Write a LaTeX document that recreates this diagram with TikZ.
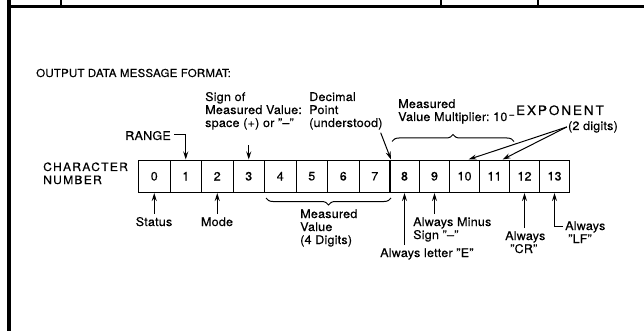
\documentclass[tikz,border=0pt]{standalone}
\usepackage{fontspec}
\setmainfont{TeX Gyre Heros}[FakeStretch=1.05,LetterSpace=1.5,FakeBold=0.3]
\newfontfamily\widefont{TeX Gyre Heros}[FakeStretch=1.05,LetterSpace=11,FakeBold=0.3]
\usetikzlibrary{arrows.meta,decorations.pathreplacing,calc}
\begin{document}
\begin{tikzpicture}[x=1pt,y=-1pt,font=\fontsize{12}{14}\selectfont,
  cell/.style={draw,line width=1pt,minimum height=32.5pt,inner sep=0pt,anchor=north west},
  lbl/.style={inner sep=0pt,anchor=base west},
  clbl/.style={inner sep=0pt,anchor=base},
  arr/.style={line width=1pt,-{Stealth[length=8pt,width=5pt]}},
  brc/.style={line width=1pt,decorate,decoration={brace,amplitude=7pt}},
  frame/.style={line width=#1}]
\useasboundingbox (0,0) rectangle (644,331);
% frame
\draw[frame=4pt] (9,0) -- (9,331);
\draw[frame=3pt] (7,6.5) -- (644,6.5);
\draw[frame=1.5pt] (61,0) -- (61,6);
\draw[frame=2pt] (441,0) -- (441,6);
\draw[frame=2pt] (538,0) -- (538,6);
% title
\node[lbl,font=\fontsize{11}{13}\selectfont] (title) at (36,77) {OUTPUT DATA MESSAGE FORMAT:};
% cells
\foreach \i in {0,...,7} {\node[cell,minimum width=31.5pt] (c\i) at ({138+31.5*\i},159.5) {\i};}
\foreach \i in {8,...,13} {\node[cell,minimum width=30pt] (c\i) at ({389+30*(\i-8)},159.5) {\i};}
% left labels
\node[lbl,font=\fontsize{11.5}{13}\widefont] (ch1) at (43,171) {CHARACTER};
\node[lbl,font=\fontsize{11.5}{13}\widefont] (ch2) at (43,184) {NUMBER};
% RANGE
\node[inner sep=0pt,anchor=base east] (range) at (171,140) {RANGE};
\draw[arr] ($(range.east)+(3,-1)$) -| (c1.north);
% sign
\node[lbl] (s1) at (205,101) {Sign of};
\node[lbl] (s2) at (205,114) {Measured Value:};
\node[lbl] (s3) at (205,127) {space (+) or ''–''};
\draw[arr] ($(c3.north)+(0,-14)$) -- (c3.north);
% decimal point
\node[lbl] (d1) at (309,101) {Decimal};
\node[lbl] (d2) at (309,114) {Point};
\node[lbl] (d3) at (309,127) {(understood)};
\draw[arr] ($(d3.south east)+(-2,3)$) -- (c7.north east);
% multiplier
\node[lbl] (m1) at (398,108) {Measured};
\node[lbl] (m2) at (398,121) {Value Multiplier:\ 10\,\raisebox{3.5pt}{\fontsize{8}{8}\selectfont –}\,\raisebox{6pt}{\fontsize{13}{14}\selectfont\addfontfeature{LetterSpace=14}EXPONENT}};
\node[inner sep=0pt,anchor=base east] (dig) at (618,130) {(2 digits)};
\draw[brc] ($(c8.north west)+(3,-18)$) -- ($(c11.north east)+(4,-18)$);
\draw[arr] ($(dig.west)+(-1,0)$) -- ($(c10.north)+(4,0)$);
\draw[arr] ($(dig.west)+(-1,0)$) -- ($(c11.north)+(8,0)$);
% below
\node[clbl] (status) at (154,226) {Status};
\draw[arr] ($(c0.south |- status.north)+(0,-3)$) -- (c0.south);
\node[clbl] (mode) at (217,226) {Mode};
\draw[arr] ($(c2.south |- mode.north)+(0,-3)$) -- (c2.south);
\draw[brc] ($(c7.south east)+(0,5)$) -- ($(c4.south west)+(2,5)$);
\node[lbl] (v1) at (300,218) {Measured};
\node[lbl] (v2) at (300,231) {Value};
\node[lbl] (v3) at (300,244) {(4 Digits)};
\node[lbl] (e1) at (380,257) {Always letter ''E''};
\draw[arr] ($(c8.south |- e1.north)+(0,-3)$) -- (c8.south);
\node[lbl] (n1) at (413,226) {Always Minus};
\node[lbl] (n2) at (413,239) {Sign ''–''};
\draw[arr] ($(c9.south |- n1.north)+(0,-3)$) -- (c9.south);
\node[lbl] (r1) at (505,240) {Always};
\node[lbl] (r2) at (510,253) {''CR''};
\draw[arr] ($(c12.south |- r1.north)+(0,-3)$) -- (c12.south);
\node[lbl] (l1) at (565,230) {Always};
\node[lbl] (l2) at (568,243) {''LF''};
\draw[arr] ($(l1.west)+(-2,0)$) -| (c13.south);
\end{tikzpicture}
\end{document}
